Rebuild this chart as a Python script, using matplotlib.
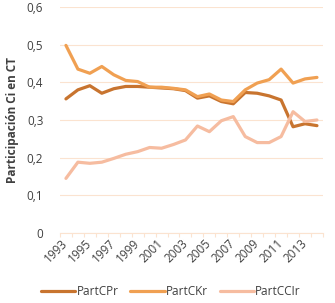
import numpy as np
import matplotlib
matplotlib.use("Agg")
import matplotlib.pyplot as plt

# Data
years = list(range(1993, 2015))
part_cpr = [0.356, 0.380, 0.391, 0.371, 0.383, 0.389, 0.389, 0.387, 0.385, 0.383, 0.378,
            0.358, 0.364, 0.349, 0.343, 0.373, 0.371, 0.364, 0.353, 0.282, 0.290, 0.285]
part_ckr = [0.498, 0.435, 0.424, 0.442, 0.420, 0.405, 0.402, 0.387, 0.387, 0.384, 0.380,
            0.362, 0.369, 0.353, 0.349, 0.380, 0.398, 0.407, 0.435, 0.398, 0.409, 0.413]
part_ccir = [0.145, 0.188, 0.185, 0.188, 0.198, 0.209, 0.216, 0.227, 0.225, 0.235, 0.247,
             0.284, 0.269, 0.298, 0.309, 0.256, 0.240, 0.240, 0.256, 0.322, 0.296, 0.300]
series_names = ["PartCPr", "PartCKr", "PartCCIr"]
colors = ["#C8742F", "#F0A052", "#F6BCA0"]
y_ticks = [0, 0.1, 0.2, 0.3, 0.4, 0.5, 0.6]

plt.rcParams['font.family'] = ['Open Sans', 'DejaVu Sans']
text_color = "#404040"
grid_color = "#FBE3D0"

fig = plt.figure(figsize=(3.35, 3.03), dpi=100)
ax = fig.add_axes([0.179, 0.231, 0.785, 0.746])

x = np.arange(len(years))
for vals, name, c in zip([part_cpr, part_ckr, part_ccir], series_names, colors):
    ax.plot(x, vals, color=c, lw=2.3, label=name, solid_capstyle='round')

ax.set_xlim(-0.5, len(years) - 0.5)
ax.set_ylim(0, 0.6)
ax.set_yticks(y_ticks)
ax.set_yticklabels([("%g" % v).replace(".", ",") for v in y_ticks],
                   fontsize=8.5, color=text_color)
ax.tick_params(axis='y', length=0, pad=12)
ax.grid(axis='y', color=grid_color, lw=0.8)
ax.set_axisbelow(True)

# category ticks between years, labels on odd years
ax.set_xticks(np.arange(-0.5, len(years), 1.0), minor=True)
ax.set_xticks(x[::2])
ax.set_xticklabels([str(y) for y in years[::2]], rotation=45, fontsize=8.5,
                   color=text_color, ha='right', va='center', rotation_mode='anchor')
ax.tick_params(axis='x', which='major', length=0, pad=6)
ax.tick_params(axis='x', which='minor', length=3, color=grid_color, width=0.8)

for s in ['top', 'right', 'left']:
    ax.spines[s].set_visible(False)
ax.spines['bottom'].set_color(grid_color)
ax.spines['bottom'].set_linewidth(0.8)

ax.set_ylabel("Participación Ci en CT", fontsize=8.5, fontweight='bold',
              color=text_color, labelpad=4)
ax.yaxis.set_label_coords(-0.155, 0.5)

fig.legend(loc='lower center', bbox_to_anchor=(0.51, -0.02), ncol=3, frameon=False,
           fontsize=8.5, handlelength=2.9, columnspacing=1.0, handletextpad=0.1,
           labelcolor=text_color)

fig.savefig("out.png", dpi=100)
